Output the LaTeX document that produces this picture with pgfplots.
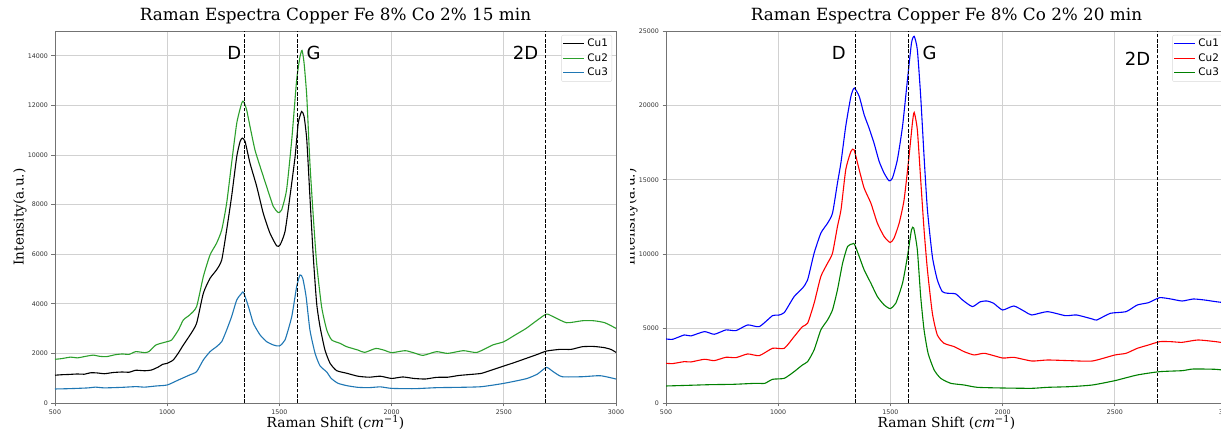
\documentclass[border=0pt]{standalone}
\usepackage{fontspec}
\setmainfont{DejaVu Sans}
\newfontfamily\dvserif{DejaVu Serif}
\usepackage{pgfplots}
\pgfplotsset{compat=1.18}
\definecolor{tabblue}{HTML}{1F77B4}
\definecolor{tabgreen}{HTML}{2CA02C}
\definecolor{mgreen}{HTML}{008000}
\definecolor{ticktext}{HTML}{333333}
\pgfplotsset{
  ramanstyle/.style={
    scale only axis, width=561pt, height=372pt,
    xmin=500, xmax=3000, ymin=0,
    xtick={500,1000,1500,2000,2500,3000},
    grid=major,
    major grid style={color=black!18, line width=0.7pt},
    axis line style={color=black!55, line width=0.8pt},
    tick align=outside, major tick length=3.5pt,
    tick style={color=black!55, line width=0.7pt},
    xtick pos=bottom, ytick pos=left,
    scaled ticks=false,
    /pgf/number format/1000 sep={},
    /pgf/number format/assume math mode=true,
    tick label style={font=\fontsize{6.3}{7}\selectfont, text=ticktext},
    title style={font=\dvserif\fontsize{16.8}{20}\selectfont, at={(axis description cs:0.5,1)}, anchor=base, yshift=4.5pt},
    xlabel style={font=\dvserif\fontsize{13.8}{16}\selectfont, at={(axis description cs:0.5,0)}, anchor=base, yshift=-25pt},
    ylabel style={font=\dvserif\fontsize{13.6}{16}\selectfont, at={(axis description cs:-0.05,0.5)}, anchor=south, inner sep=0pt},
    xlabel={Raman Shift (\textit{cm}\textsuperscript{−1})},
    ylabel={Intensity(a.u.)},
    legend style={at={(1,1)}, anchor=north east, xshift=-4pt, yshift=-4pt,
      font=\fontsize{10.4}{12}\selectfont, draw=black!15, rounded corners=2pt,
      fill=white, fill opacity=0.8, text opacity=1, inner sep=1.5pt,
      nodes={inner sep=2.4pt, text height=7.5pt, text depth=2.2pt}},
    legend cell align=left,
    legend image code/.code={\draw[#1, line width=1.1pt] (0pt,0pt) -- (21pt,0pt);},
    every axis plot/.append style={line width=1.1pt, smooth, tension=0.35},
  },
  peakline/.style={black, line width=1pt, dash pattern=on 3.7pt off 1.6pt, forget plot, sharp plot},
}
\begin{document}
\begin{tikzpicture}
\path[use as bounding box] (0,0) rectangle (1221pt,433pt);
% ---------------- right panel (20 min) ----------------
\begin{axis}[ramanstyle, at={(666pt,30pt)}, anchor=south west,
  ymax=25000, ytick={0,5000,10000,15000,20000,25000},
  title={Raman Espectra Copper Fe 8\% Co 2\% 20 min}]
\addplot[blue] coordinates {
(500,4305) (530,4283) (582,4574) (611,4507) (671,4798) (715,4619) (767,4910) (812,4865)
(864,5247) (916,5135) (975,5874) (1000,5900) (1027,6076) (1071,7152) (1108,7713) (1131,8274)
(1160,10067) (1190,11413) (1220,12085) (1242,12758) (1264,14776) (1280,16200) (1301,18600)
(1324,20605) (1339,21166) (1361,20605) (1383,19372) (1405,18475) (1427,17466) (1450,16233)
(1472,15448) (1494,14933) (1509,15112) (1531,16345) (1554,18587) (1576,21726) (1594,24193)
(1606,24641) (1620,23744) (1635,20605) (1650,16570) (1665,12982) (1687,9843) (1709,8274)
(1731,7489) (1754,7377) (1791,7332) (1821,6928) (1865,6480) (1900,6800) (1930,6855)
(1960,6700) (2000,6250) (2050,6519) (2100,6138) (2130,5914) (2200,6138) (2280,5869)
(2330,5914) (2400,5645) (2420,5578) (2480,6026) (2550,6138) (2600,6586) (2650,6743)
(2700,7079) (2750,6989) (2800,6855) (2850,6989) (2900,6922) (2950,6810) (3000,6720)};
\addlegendentry{Cu1}
\addplot[red] coordinates {
(500,2668) (530,2650) (582,2780) (611,2758) (671,2937) (715,2848) (767,3072) (812,3049)
(864,3296) (916,3184) (975,3677) (1027,3677) (1071,4462) (1108,5135) (1131,5359) (1160,6704)
(1190,8498) (1220,9395) (1242,10067) (1264,11861) (1280,13000) (1301,15673) (1324,16906)
(1338,17018) (1361,15673) (1383,14439) (1413,13430) (1442,12085) (1472,11188) (1499,10785)
(1516,11076) (1539,12085) (1561,13655) (1583,16570) (1598,18812) (1606,19529) (1620,18363)
(1635,15000) (1650,11637) (1665,8946) (1687,6031) (1709,4574) (1739,4013) (1784,3789)
(1828,3453) (1873,3229) (1920,3338) (2000,3024) (2050,3069) (2130,2822) (2200,2890)
(2300,2845) (2400,2822) (2500,3226) (2550,3338) (2600,3674) (2650,3898) (2700,4122)
(2750,4122) (2800,4077) (2870,4234) (2950,4122) (3000,4010)};
\addlegendentry{Cu2}
\addplot[mgreen] coordinates {
(500,1143) (600,1188) (700,1233) (800,1256) (900,1323) (940,1320) (975,1592) (1027,1659)
(1071,2108) (1108,2556) (1131,2780) (1160,3565) (1190,4910) (1220,5583) (1242,6256)
(1264,7601) (1287,9395) (1309,10516) (1331,10695) (1340,10673) (1361,9843) (1383,8946)
(1413,8049) (1442,7152) (1472,6592) (1499,6345) (1524,6704) (1554,8049) (1576,9843)
(1594,11637) (1604,11749) (1620,10291) (1635,7152) (1650,4910) (1668,3341) (1695,2220)
(1724,1659) (1769,1323) (1828,1211) (1887,1054) (2000,1008) (2130,986) (2200,1053)
(2300,1098) (2400,1210) (2500,1501) (2600,1882) (2700,2106) (2800,2173) (2850,2285)
(2950,2263) (3000,2173)};
\addlegendentry{Cu3}
\addplot[peakline] coordinates {(1345,0) (1345,25000)};
\addplot[peakline] coordinates {(1582,0) (1582,25000)};
\addplot[peakline] coordinates {(2690,0) (2690,25000)};
\node[font=\fontsize{18}{20}\selectfont, anchor=base, inner sep=0pt] at (axis cs:1270,23118) {D};
\node[font=\fontsize{18}{20}\selectfont, anchor=base, inner sep=0pt] at (axis cs:1675,23118) {G};
\node[font=\fontsize{18}{20}\selectfont, anchor=base, inner sep=0pt] at (axis cs:2601,22648) {2D};
\end{axis}
\fill[white] (0,0) rectangle (630pt,433pt);
% ---------------- left panel (15 min) ----------------
\begin{axis}[ramanstyle, at={(55pt,30pt)}, anchor=south west,
  ymax=15000, ytick={0,2000,4000,6000,8000,10000,12000,14000},
  title={Raman Espectra Copper Fe 8\% Co 2\% 15 min}]
\addplot[black] coordinates {
(500,1120) (530,1140) (560,1150) (600,1170) (630,1160) (660,1220) (690,1210) (720,1180)
(760,1230) (800,1250) (830,1240) (860,1320) (900,1300) (930,1330) (960,1450) (980,1560)
(1000,1600) (1027,1735) (1050,2020) (1072,2340) (1102,2744) (1131,3215) (1161,4425)
(1191,5030) (1220,5367) (1243,5770) (1265,6980) (1287,8325) (1310,9936) (1325,10550)
(1335,10680) (1347,10545) (1369,9670) (1399,8729) (1428,7653) (1458,6846) (1488,6335)
(1503,6375) (1525,6913) (1547,8325) (1570,9940) (1584,11285) (1599,11755) (1610,11553)
(1622,10612) (1636,8325) (1651,5904) (1666,4021) (1681,3080) (1703,2138) (1726,1600)
(1755,1305) (1800,1200) (1850,1080) (1900,1040) (1950,1080) (2000,990) (2050,1050)
(2100,990) (2150,967) (2200,1034) (2250,1040) (2300,1110) (2350,1150) (2400,1195)
(2450,1340) (2500,1490) (2550,1640) (2600,1800) (2650,1960) (2690,2095) (2750,2162)
(2800,2162) (2850,2270) (2900,2280) (2950,2230) (2980,2150) (3000,2040)};
\addlegendentry{Cu1}
\addplot[tabgreen] coordinates {
(500,1762) (530,1790) (570,1850) (600,1820) (630,1870) (670,1930) (700,1880) (730,1870)
(770,1950) (800,1977) (830,1960) (860,2071) (900,2031) (920,2080) (950,2340) (1000,2475)
(1020,2542) (1050,2945) (1072,3350) (1100,3550) (1131,3887) (1161,5097) (1191,5972)
(1220,6443) (1243,6980) (1265,8057) (1287,9670) (1310,11285) (1332,12092) (1340,12160)
(1354,11822) (1369,11150) (1391,10208) (1414,9536) (1443,8729) (1473,7922) (1495,7680)
(1510,7788) (1532,8594) (1555,10612) (1577,13033) (1592,13974) (1601,14217) (1610,13705)
(1622,12360) (1636,9670) (1651,7518) (1666,5635) (1688,3887) (1711,2945) (1733,2542)
(1770,2407) (1800,2270) (1850,2135) (1880,2040) (1930,2200) (1970,2120) (2000,2028)
(2060,2110) (2100,2020) (2140,1920) (2200,2070) (2250,2000) (2320,2110) (2380,2040)
(2450,2337) (2500,2470) (2550,2740) (2600,3010) (2650,3345) (2690,3586) (2720,3480)
(2780,3237) (2850,3317) (2900,3317) (2950,3237) (3000,3010)};
\addlegendentry{Cu2}
\addplot[tabblue] coordinates {
(500,565) (550,575) (600,590) (650,610) (680,640) (720,610) (800,632) (860,660) (900,640)
(950,686) (1000,726) (1050,928) (1100,1130) (1131,1264) (1161,1735) (1191,2071) (1220,2273)
(1243,2475) (1265,2945) (1287,3483) (1310,4156) (1332,4425) (1340,4465) (1362,3887)
(1384,3215) (1414,2744) (1443,2475) (1473,2340) (1500,2300) (1525,2542) (1555,3483)
(1577,4694) (1592,5165) (1604,5030) (1619,4290) (1636,2945) (1659,2004) (1681,1500)
(1711,1250) (1730,1000) (1760,800) (1800,700) (1850,631) (1900,620) (1950,650) (2000,590)
(2100,577) (2200,618) (2300,631) (2400,658) (2500,792) (2600,980) (2650,1168) (2690,1437)
(2720,1263) (2760,1060) (2850,1060) (2930,1100) (3000,967)};
\addlegendentry{Cu3}
\addplot[peakline] coordinates {(1343,0) (1343,15000)};
\addplot[peakline] coordinates {(1580,0) (1580,15000)};
\addplot[peakline] coordinates {(2688,0) (2688,15000)};
\node[font=\fontsize{18}{20}\selectfont, anchor=base, inner sep=0pt] at (axis cs:1299,13865) {D};
\node[font=\fontsize{18}{20}\selectfont, anchor=base, inner sep=0pt] at (axis cs:1652,13865) {G};
\node[font=\fontsize{18}{20}\selectfont, anchor=base, inner sep=0pt] at (axis cs:2597,13865) {2D};
\end{axis}
\end{tikzpicture}
\end{document}
